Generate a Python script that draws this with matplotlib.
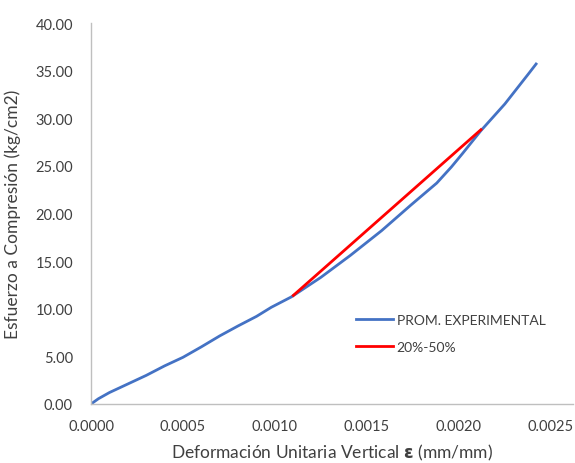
import matplotlib
matplotlib.use("Agg")
import matplotlib.pyplot as plt
from matplotlib.ticker import FixedLocator

# Average experimental stress-strain curve
strain = [0, 0.00004, 0.00010, 0.00020, 0.00030, 0.00040, 0.00050, 0.00060,
          0.00070, 0.00080, 0.00090, 0.00098, 0.00109, 0.00125, 0.00141,
          0.00158, 0.00174, 0.00188, 0.00196, 0.00202, 0.00212, 0.00225,
          0.00238, 0.00242]
stress = [0, 0.55, 1.2, 2.1, 3.0, 4.0, 4.9, 6.0,
          7.15, 8.2, 9.2, 10.15, 11.25, 13.3, 15.6,
          18.2, 20.9, 23.2, 24.9, 26.3, 28.7, 31.5,
          34.7, 35.7]

# Secant segment between 20% and 50% of the peak
sec_strain = [0.00110, 0.00212]
sec_stress = [11.4, 28.8]

x_ticks = [0, 0.0005, 0.0010, 0.0015, 0.0020, 0.0025]
y_ticks = [0, 5, 10, 15, 20, 25, 30, 35, 40]

plt.rcParams['font.family'] = ['Lato', 'DejaVu Sans']

fig = plt.figure(figsize=(5.75, 4.64), dpi=100)
ax = fig.add_axes([0.1583, 0.1272, 0.838, 0.821])

ax.plot(strain, stress, color='#4472C4', lw=2.0, label='PROM. EXPERIMENTAL',
        solid_joinstyle='round')
ax.plot(sec_strain, sec_stress, color='#FF0000', lw=2.0, label='20%-50%')

ax.set_xlim(0, 0.00262)
ax.set_ylim(0, 40)
ax.xaxis.set_major_locator(FixedLocator(x_ticks))
ax.yaxis.set_major_locator(FixedLocator(y_ticks))
ax.set_xticklabels([f"{v:.4f}" for v in x_ticks])
ax.set_yticklabels([f"{v:.2f}" for v in y_ticks])
ax.tick_params(length=0, labelsize=10.5, labelcolor='#404040')
ax.tick_params(axis='y', pad=13)
ax.tick_params(axis='x', pad=11)

for s in ['top', 'right']:
    ax.spines[s].set_visible(False)
for s in ['left', 'bottom']:
    ax.spines[s].set_color('#BFBFBF')
    ax.spines[s].set_linewidth(1.0)

ax.set_xlabel(r'Deformación Unitaria Vertical $\boldsymbol{\varepsilon}$ (mm/mm)',
              fontsize=12.5, color='#404040', labelpad=6)
ax.set_ylabel('Esfuerzo a Compresión (kg/cm2)', fontsize=12.5,
              color='#404040', labelpad=10)

ax.legend(loc='center left', bbox_to_anchor=(0.525, 0.185), frameon=False,
          fontsize=10, handlelength=2.6, handletextpad=0.3,
          labelspacing=1.1, labelcolor='#404040')

fig.savefig('out.png', dpi=100, facecolor='white')
